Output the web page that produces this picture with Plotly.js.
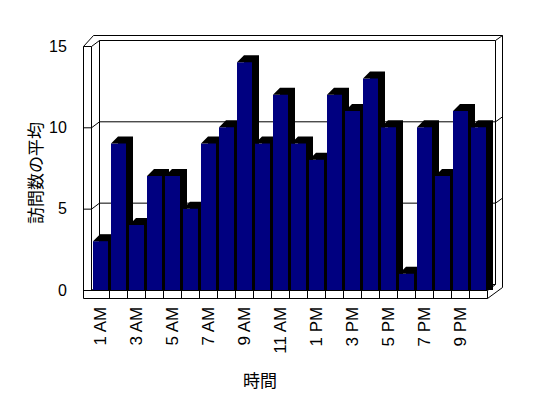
<!DOCTYPE html>
<html>
<head>
<meta charset="utf-8">
<script src="https://cdn.plot.ly/plotly-3.0.1.min.js"></script>
<style>html,body{margin:0;padding:0;background:#fff;}#chart{width:548px;height:398px;}</style>
</head>
<body>
<div id="chart"></div>
<script>
// ---- data ----
const categories = ['1 AM','2 AM','3 AM','4 AM','5 AM','6 AM','7 AM','8 AM','9 AM','10 AM','11 AM','12 PM',
                    '1 PM','2 PM','3 PM','4 PM','5 PM','6 PM','7 PM','8 PM','9 PM','10 PM'];
const values = [3, 9, 4, 7, 7, 5, 9, 10, 14, 9, 12, 9, 8, 12, 11, 13, 10, 1, 10, 7, 11, 10];
const yTickValues = [0, 5, 10, 15];
const gridValues = [5, 10];
const xTitle = '時間';
const yTitle = '訪問数の平均';

// ---- geometry (pixel -> data helpers for the 3-D frame) ----
const PXU = 18, PYU = 16.27;            // px per x unit / y unit
const PX = px => (px - 100.5) / PXU;
const PY = py => (290 - py) / PYU;
const W = 15 / PXU;                     // bar face width
const DXB = 7 / PXU, DYB = 7 / PYU;     // bar depth offsets

const xs = values.map((_, i) => i);
const tickIdx = xs.filter(i => i % 2 === 0);

// depth body (top + right side) of each bar
const depth = {
  type: 'bar', x: xs, y: values.map(v => v + DYB), width: W, offset: -W / 2 + DXB,
  marker: {color: '#000000', line: {width: 0}}, hoverinfo: 'skip', showlegend: false
};
// front faces
const front = {
  type: 'bar', x: xs, y: values, width: W, offset: -W / 2,
  marker: {color: '#000080', line: {width: 0}}, name: yTitle, showlegend: false
};
// slanted top-left corners of the depth faces
const cx = [], cy = [];
values.forEach((v, i) => {
  const l = i - W / 2;
  cx.push(l, l + DXB, l + DXB, l, null);
  cy.push(v, v + DYB, v, v, null);
});
const corners = {
  type: 'scatter', mode: 'lines', x: cx, y: cy, fill: 'toself', fillcolor: '#000000',
  line: {width: 0, color: '#000000'}, hoverinfo: 'skip', showlegend: false
};

// ---- frame shapes ----
function P(px, py) { return PX(px + 0.5) + ',' + PY(py + 0.5); }
function path(pts, close) {
  return {type: 'path', xref: 'x', yref: 'y', layer: 'below',
          path: 'M' + pts.join('L') + (close ? 'Z' : ''), line: {color: '#000', width: 1}};
}
const shapes = [];
shapes.push(path([P(83,298), P(83,46), P(93,35), P(502,35), P(502,287), P(487,298)], true));
shapes.push(path([P(83,46), P(91,46), P(91,290)]));
shapes.push(path([P(91,46), P(99,40), P(495,40), P(495,284)]));
shapes.push(path([P(495,40), P(502,35)]));
shapes.push(path([P(99,40), P(99,284)]));
shapes.push(path([P(83,290), P(487,290), P(487,298)]));
shapes.push(path([P(487,290), P(495,284)]));
shapes.push(path([P(91,290), P(99,284), P(495,284)]));
gridValues.forEach(v => {
  const yf = 290 - v * PYU;
  shapes.push(path([P(83,yf), P(91,yf), P(99,yf-6), P(495,yf-6), P(502,yf-11)]));
});
for (let i = 0; i < values.length - 1; i++) {
  const xpx = 100.5 + (i + 0.5) * PXU;
  shapes.push(path([P(xpx - 0.5, 290), P(xpx - 0.5, 298)]));
}

const xTickFont = {family: 'Liberation Sans, Arial, sans-serif', size: 17, color: '#000'};
const yTickFont = {family: 'Liberation Sans Narrow, Arial Narrow, sans-serif', size: 16, color: '#000'};
const cjkFont = {family: 'Noto Sans CJK JP, sans-serif', size: 17, color: '#000'};

const layout = {
  width: 548, height: 398,
  margin: {l: 83, r: 45, t: 33, b: 99, pad: 0},
  paper_bgcolor: '#ffffff', plot_bgcolor: '#ffffff',
  barmode: 'overlay', showlegend: false,
  xaxis: {
    range: [PX(83), PX(503)], tickvals: tickIdx, ticktext: tickIdx.map(i => categories[i]),
    tickangle: -90, ticks: 'outside', ticklen: 0, tickcolor: 'rgba(0,0,0,0)',
    showgrid: false, zeroline: false, showline: false, tickfont: xTickFont, fixedrange: true
  },
  yaxis: {
    range: [PY(299), PY(33)], tickvals: yTickValues, ticks: 'outside', ticklen: 12,
    tickcolor: 'rgba(0,0,0,0)', showgrid: false, zeroline: false, showline: false,
    tickfont: yTickFont, fixedrange: true
  },
  shapes: shapes,
  annotations: [{
    text: xTitle, xref: 'paper', yref: 'paper', x: (260 - 83) / 420, y: (299 - 379) / 266,
    xanchor: 'center', yanchor: 'middle', showarrow: false, font: cjkFont
  }, {
    text: yTitle, xref: 'paper', yref: 'paper', x: (34 - 83) / 420, y: (299 - 173) / 266,
    xanchor: 'center', yanchor: 'middle', textangle: -90, showarrow: false, font: cjkFont
  }]
};

Plotly.newPlot('chart', [depth, front, corners], layout, {staticPlot: true, displayModeBar: false});
</script>
</body>
</html>
